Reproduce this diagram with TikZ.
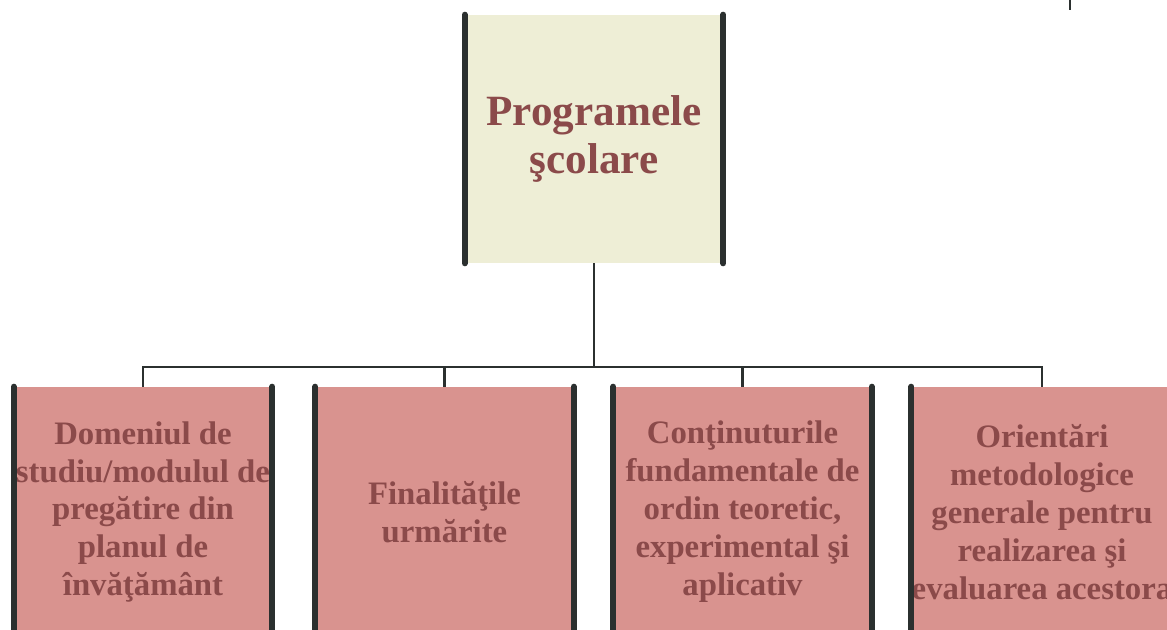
\documentclass[tikz,border=0pt]{standalone}
\usepackage{fontspec}
\setmainfont{Liberation Serif}
\usetikzlibrary{positioning}
\definecolor{bege}{HTML}{EEEED6}
\definecolor{roz}{HTML}{D9938F}
\definecolor{vin}{HTML}{8B4A4A}
\definecolor{bara}{HTML}{2B302F}
\tikzset{
  sus/.style={fill=bege,minimum width=258*0.025cm,minimum height=248*0.025cm,inner sep=0pt,
    text=vin,font=\fontsize{30.7}{34}\selectfont\bfseries,align=center},
  jos/.style={fill=roz,minimum width=258*0.025cm,minimum height=250*0.025cm,inner sep=0pt,
    text=vin,font=\fontsize{23.3}{27}\selectfont\bfseries,align=center},
  bara/.style={line width=4.3pt,color=bara,line cap=round},
  fir/.style={line width=1.6pt,color=bara}
}
\begin{document}
\begin{tikzpicture}[x=0.025cm,y=-0.025cm]
\useasboundingbox (0,0) rectangle (1167,630);
\node[sus] (prog) at (594,139) {Programele\\şcolare};
\node[jos] (dom) at (143,512) {Domeniul de\\studiu/modulul de\\pregătire din\\planul de\\învăţământ};
\node[jos] (fin) at (444.5,512) {Finalităţile\\urmărite};
\node[jos] (con) at (742.5,512) {Conţinuturile\\fundamentale de\\ordin teoretic,\\experimental şi\\aplicativ};
\node[jos] (ori) at (1042,512) {Orientări\\metodologice\\generale pentru\\realizarea şi\\evaluarea acestora};
\foreach \n in {prog,dom,fin,con,ori}{
  \draw[bara] (\n.north west) -- (\n.south west);
  \draw[bara] (\n.north east) -- (\n.south east);
}
\coordinate (bus) at (594,367);
\draw[fir] (prog.south) -- (bus);
\foreach \n in {dom,fin,con,ori}
  \draw[fir] (bus) -| (\n.north);
\coordinate (tic) at (1070,0);
\draw[fir,line width=1pt] (tic) -- ++(0,10);
\end{tikzpicture}
\end{document}
